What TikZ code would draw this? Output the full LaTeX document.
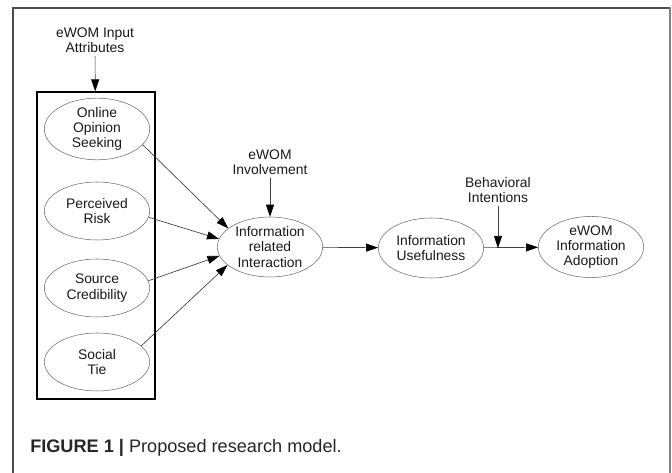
\documentclass[tikz,border=0pt]{standalone}
\usepackage{fontspec}
\setmainfont{Liberation Sans}
\usetikzlibrary{shapes.geometric,arrows.meta}
\begin{document}
\begin{tikzpicture}[x=0.75pt,y=-0.75pt,>={Triangle[length=9pt,width=6pt,color=black]}]
\tikzstyle{bulle}=[draw=gray!85!black, ellipse, inner sep=0pt, minimum width=79pt, minimum height=43.5pt, align=center, font=\fontsize{10.4}{11.5}\selectfont, text=black!90];
\tikzstyle{etiquette}=[align=center, inner sep=2pt, font=\fontsize{10.4}{11.5}\selectfont, text=black!90];
\tikzstyle{fleche}=[->, draw=black!75, line width=0.5pt];
\useasboundingbox (0,0) rectangle (672,473);
% cadre
\draw[black!70, line width=0.8pt] (13,473) -- (13,8) -- (670,8);
\draw[gray, line width=1.6pt] (670,7.5) -- (670,473);

\node[etiquette] (attr) at (95,40.5) {eWOM Input\\Attributes};
\node[draw, line width=1.1pt, minimum width=88.5pt, minimum height=230pt] (groupe) at (96,245.5) {};
\node[bulle] (oos) at (97,129) {Online\\Opinion\\Seeking};
\node[bulle] (pr) at (97,211) {Perceived\\Risk};
\node[bulle] (sc) at (97,288) {Source\\Credibility};
\node[bulle] (st) at (97,362) {Social\\Tie};

\node[etiquette] (inv) at (270,162) {eWOM\\Involvement};
\node[bulle, minimum height=45pt] (inter) at (270,247) {Information\\related\\Interaction};
\node[bulle, minimum height=45pt] (useful) at (431,248) {Information\\Usefulness};
\node[etiquette] (beh) at (498,190) {Behavioral\\Intentions};
\node[bulle, minimum height=45pt] (adopt) at (591,247) {eWOM\\Information\\Adoption};
\coordinate (bi) at (498,248);

\draw[fleche] (attr) -- (groupe);
\draw[fleche] (oos.341) -- (inter.156);
\draw[fleche] (pr.353) -- (inter.171);
\draw[fleche] (sc.8) -- (inter.190);
\draw[fleche] (st.20) -- (inter.203);
\draw[fleche] (inv) -- (inter);
\draw[fleche] (inter) -- (useful);
\draw[fleche] (useful) -- (adopt);
\draw[fleche] (beh) -- (bi);

\node[anchor=west, inner sep=0pt, font=\fontsize{13.6}{15}\selectfont, text=black!85] (legende) at (30,448) {\textbf{FIGURE 1 |} Proposed research model.};
\end{tikzpicture}
\end{document}
